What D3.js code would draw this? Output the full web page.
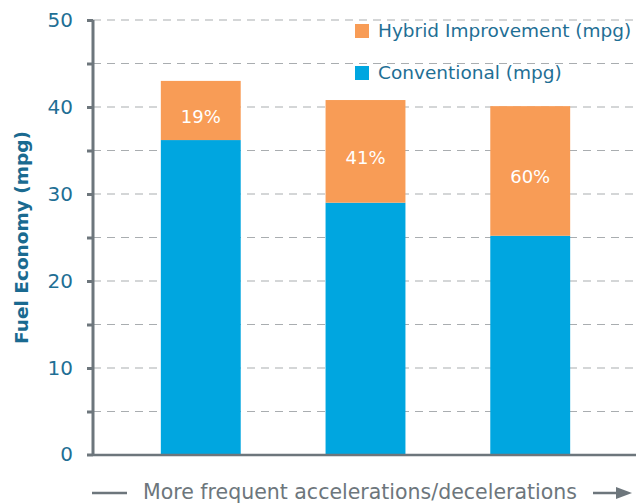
<!DOCTYPE html>
<html>
<head>
<meta charset="utf-8">
<script src="https://cdn.jsdelivr.net/npm/d3@7"></script>
<style>
    body { margin: 0; background: #fff; }
    text { font-family: "DejaVu Sans", sans-serif; }
</style>
</head>
<body>
<div id="chart"></div>
<script>
// data
const categories = ["Low", "Medium", "High"];
const conventional = [36.2, 29.0, 25.2];
const hybridImprovement = [6.8, 11.8, 14.9];
const improvementLabels = ["19%", "41%", "60%"];
const yTicks = [0, 10, 20, 30, 40, 50];
const yGrid = [5, 10, 15, 20, 25, 30, 35, 40, 45, 50];
const legendKeys = ["Hybrid Improvement (mpg)", "Conventional (mpg)"];

const blue = "#00a6e0", orange = "#f89c56", axisGray = "#6d767c", tickBlue = "#1f6f95";

const margin = {top: 20, right: 6, bottom: 49, left: 93},
    width = 642 - margin.left - margin.right,
    height = 504 - margin.top - margin.bottom;

const svg = d3.select("#chart").append("svg")
    .attr("width", 642)
    .attr("height", 504)
    .append("g")
    .attr("transform", "translate(" + margin.left + "," + margin.top + ")");

const x = d3.scaleBand()
    .domain(categories)
    .range([25, 25 + 3 * 165])
    .paddingInner(0.515)
    .paddingOuter(0.26);

const y = d3.scaleLinear()
    .domain([0, 50])
    .range([height, 0]);

// dashed gridlines
svg.append("g")
    .selectAll("line")
    .data(yGrid)
    .enter()
    .append("line")
    .attr("x1", 0)
    .attr("x2", width)
    .attr("y1", d => y(d))
    .attr("y2", d => y(d))
    .attr("stroke", "#a9adb0")
    .attr("stroke-width", 1.2)
    .attr("stroke-dasharray", "8,6");

// stacked bars
const stacked = categories.map(function (c, i) {
    return {cat: c, conv: conventional[i], hyb: hybridImprovement[i], label: improvementLabels[i]};
});

svg.append("g")
    .selectAll("rect")
    .data(stacked)
    .enter()
    .append("rect")
    .attr("x", d => x(d.cat))
    .attr("width", x.bandwidth())
    .attr("y", d => y(d.conv))
    .attr("height", d => y(0) - y(d.conv))
    .attr("fill", blue);

svg.append("g")
    .selectAll("rect")
    .data(stacked)
    .enter()
    .append("rect")
    .attr("x", d => x(d.cat))
    .attr("width", x.bandwidth())
    .attr("y", d => y(d.conv + d.hyb))
    .attr("height", d => y(d.conv) - y(d.conv + d.hyb))
    .attr("fill", orange);

// labels sit a little below the middle of the orange part
svg.append("g")
    .selectAll("text")
    .data(stacked)
    .enter()
    .append("text")
    .attr("x", d => x(d.cat) + x.bandwidth() / 2)
    .attr("y", d => y(d.conv + d.hyb / 2) + 6)
    .attr("dy", "0.35em")
    .attr("text-anchor", "middle")
    .attr("fill", "#fff")
    .style("font-size", "18px")
    .text(d => d.label);

// Y axis
const yAxis = svg.append("g")
    .call(d3.axisLeft(y).tickValues(yGrid).tickSize(6).tickPadding(14)
        .tickFormat(d => yTicks.includes(d) ? d : ""));
yAxis.append("line")
    .attr("x1", -6).attr("x2", 0)
    .attr("y1", y(0)).attr("y2", y(0))
    .attr("stroke", axisGray).attr("stroke-width", 3);
yAxis.select(".domain").attr("stroke", axisGray).attr("stroke-width", 3)
    .attr("d", "M0," + y(50) + "V" + y(0));
yAxis.selectAll(".tick line").attr("stroke", axisGray).attr("stroke-width", 3);
yAxis.selectAll(".tick text")
    .attr("fill", tickBlue)
    .style("font-size", "20px");
yAxis.append("text")
    .attr("x", -20)
    .attr("y", y(0))
    .attr("dy", "0.32em")
    .attr("text-anchor", "end")
    .attr("fill", tickBlue)
    .style("font-size", "20px")
    .text("0");

// X axis baseline
svg.append("line")
    .attr("x1", 0).attr("x2", width)
    .attr("y1", y(0)).attr("y2", y(0))
    .attr("stroke", axisGray).attr("stroke-width", 2.5);

// Y axis title
svg.append("text")
    .attr("transform", "translate(" + (-65) + "," + (height / 2) + ") rotate(-90)")
    .attr("text-anchor", "middle")
    .attr("fill", "#1a6a90")
    .style("font-size", "18.5px")
    .style("font-weight", "bold")
    .text("Fuel Economy (mpg)");

// legend
const legendColors = [orange, blue];
const legend = svg.append("g").attr("transform", "translate(262,4)");
legend.selectAll("rect")
    .data(legendKeys)
    .enter()
    .append("rect")
    .attr("x", 0)
    .attr("y", (d, i) => i * 42)
    .attr("width", 14)
    .attr("height", 14)
    .attr("fill", (d, i) => legendColors[i]);
legend.selectAll("text")
    .data(legendKeys)
    .enter()
    .append("text")
    .attr("x", 23)
    .attr("y", (d, i) => i * 42 + 7)
    .attr("dy", "0.35em")
    .attr("fill", tickBlue)
    .style("font-size", "18.5px")
    .text(d => d);

// bottom caption with line and arrow
const caption = svg.append("g").attr("transform", "translate(0," + (height + 38) + ")");
caption.append("line")
    .attr("x1", -1).attr("x2", 34)
    .attr("y1", 0).attr("y2", 0)
    .attr("stroke", axisGray).attr("stroke-width", 2.5);
caption.append("text")
    .attr("x", 50)
    .attr("y", -1)
    .attr("dy", "0.35em")
    .attr("fill", "#6d767c")
    .style("font-size", "20.5px")
    .text("More frequent accelerations/decelerations");
caption.append("line")
    .attr("x1", 500).attr("x2", 533)
    .attr("y1", 0).attr("y2", 0)
    .attr("stroke", axisGray).attr("stroke-width", 2.5);
caption.append("path")
    .attr("d", "M523,-6L539,0L523,6Z")
    .attr("fill", axisGray);
</script>
</body>
</html>
